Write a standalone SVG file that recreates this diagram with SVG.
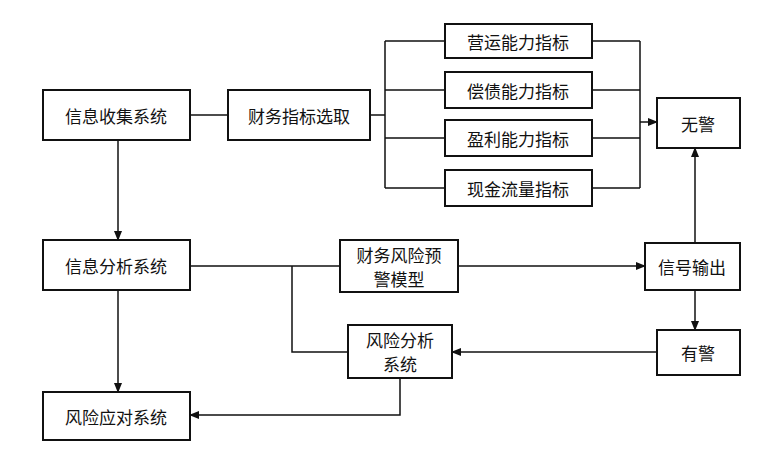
<svg xmlns="http://www.w3.org/2000/svg" width="759" height="457" viewBox="0 0 759 457">
<defs><marker id="a" markerWidth="10" markerHeight="8" refX="9" refY="4" orient="auto" markerUnits="userSpaceOnUse"><path d="M0,0 L10,4 L0,8 z" fill="#111"/></marker></defs>
<style>
rect{fill:#fff;stroke:#111;stroke-width:2}
text{font-family:"Noto Sans CJK SC",sans-serif;font-size:17px;fill:#111;text-anchor:middle;dominant-baseline:central}
.c{fill:none;stroke:#111;stroke-width:1.5}
.m{marker-end:url(#a)}
</style>
<rect x="0" y="0" width="759" height="457" style="fill:#fff;stroke:none"/>
<g id="connectors">
<path class="c" d="M190,115 H228"/>
<path class="c" d="M370,115 H385 M385,41 V188 M385,41 H445 M385,90 H445 M385,138 H445 M385,188 H445"/>
<path class="c" d="M592,41 H640 M592,90 H640 M592,138 H640 M592,188 H640 M640,41 V188"/>
<path class="c m" d="M640,122 H657"/>
<path class="c m" d="M118,140 V240"/>
<path class="c m" d="M118,290 V392"/>
<path class="c" d="M190,266 H340 M292,266 V352 H348"/>
<path class="c m" d="M458,266 H645"/>
<path class="c m" d="M695,243 V148"/>
<path class="c m" d="M695,290 V330"/>
<path class="c m" d="M657,352 H452"/>
<path class="c m" d="M400,378 V415 H190"/>
</g>
<g id="n1"><rect x="43" y="90" width="147" height="50"/><text x="116" y="115">信息收集系统</text></g>
<g id="n2"><rect x="228" y="90" width="142" height="50"/><text x="299" y="115">财务指标选取</text></g>
<g id="n3"><rect x="445" y="24" width="147" height="34"/><text x="518" y="41">营运能力指标</text></g>
<g id="n4"><rect x="445" y="72" width="147" height="36"/><text x="518" y="90">偿债能力指标</text></g>
<g id="n5"><rect x="445" y="120" width="147" height="36"/><text x="518" y="138">盈利能力指标</text></g>
<g id="n6"><rect x="445" y="170" width="147" height="36"/><text x="518" y="188">现金流量指标</text></g>
<g id="n7"><rect x="657" y="98" width="83" height="50"/><text x="698" y="123">无警</text></g>
<g id="n8"><rect x="43" y="240" width="147" height="50"/><text x="116" y="265">信息分析系统</text></g>
<g id="n9"><rect x="340" y="240" width="118" height="52"/><text x="399" y="254">财务风险预</text><text x="399" y="278">警模型</text></g>
<g id="n10"><rect x="645" y="243" width="95" height="47"/><text x="692" y="266">信号输出</text></g>
<g id="n11"><rect x="657" y="330" width="83" height="45"/><text x="698" y="352">有警</text></g>
<g id="n12"><rect x="348" y="325" width="104" height="53"/><text x="400" y="339">风险分析</text><text x="400" y="363">系统</text></g>
<g id="n13"><rect x="43" y="392" width="147" height="48"/><text x="116" y="416">风险应对系统</text></g>
</svg>
